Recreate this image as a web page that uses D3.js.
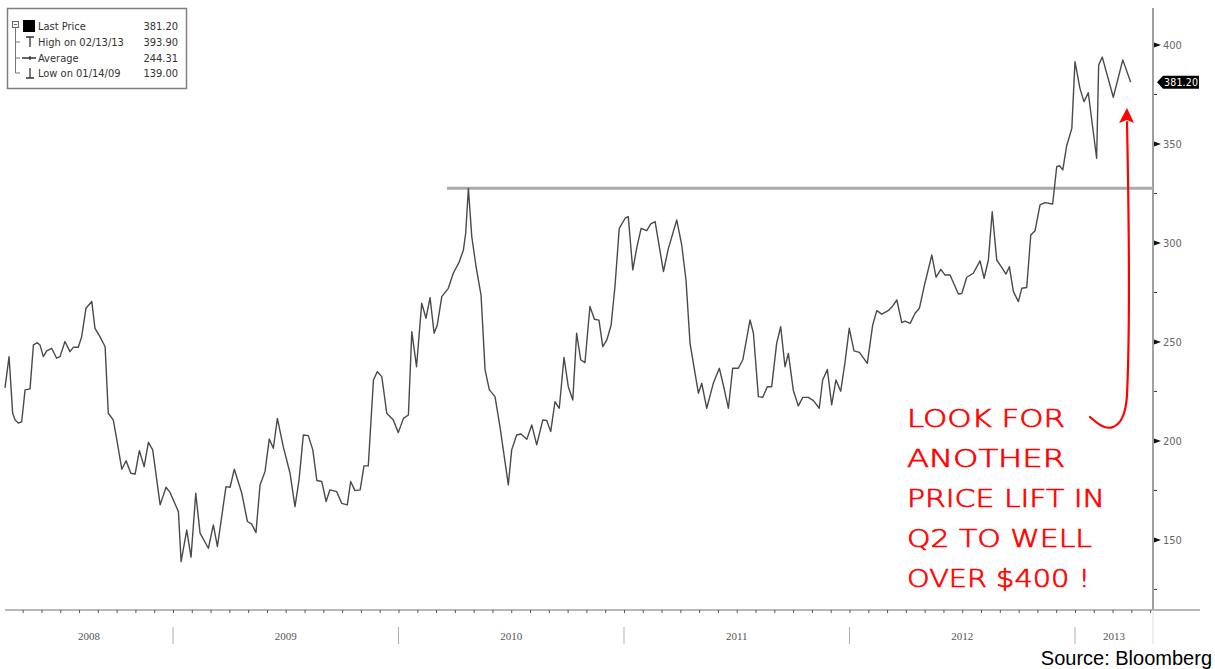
<!DOCTYPE html>
<html>
<head>
<meta charset="utf-8">
<script src="https://cdn.jsdelivr.net/npm/d3@7"></script>
<style>
  html, body { margin: 0; padding: 0; background: #fff; }
  svg { display: block; }
</style>
</head>
<body>
<svg id="chart"></svg>
<script>
const width = 1215
const height = 669

// weekly-ish closes, dates as decimal years
const dates = [
  2008.255, 2008.273, 2008.289, 2008.300, 2008.314, 2008.329, 2008.344, 2008.366, 2008.381, 2008.398,
  2008.410, 2008.425, 2008.440, 2008.462, 2008.484, 2008.499, 2008.521, 2008.543, 2008.558, 2008.580,
  2008.595, 2008.614, 2008.640, 2008.654, 2008.676, 2008.699, 2008.713, 2008.735, 2008.751, 2008.773,
  2008.792, 2008.813, 2008.832, 2008.851, 2008.872, 2008.891, 2008.910, 2008.943, 2008.969, 2008.987,
  2009.024, 2009.036, 2009.061, 2009.080, 2009.101, 2009.120, 2009.157, 2009.179, 2009.197, 2009.235,
  2009.253, 2009.272, 2009.305, 2009.330, 2009.349, 2009.368, 2009.386, 2009.408, 2009.427, 2009.445,
  2009.463, 2009.489, 2009.519, 2009.541, 2009.559, 2009.578, 2009.600, 2009.620, 2009.638, 2009.660,
  2009.679, 2009.696, 2009.726, 2009.748, 2009.773, 2009.788, 2009.807, 2009.830, 2009.847, 2009.866,
  2009.889, 2009.906, 2009.926, 2009.948, 2009.977, 2009.999, 2010.022, 2010.044, 2010.059, 2010.080,
  2010.103, 2010.122, 2010.140, 2010.158, 2010.172, 2010.192, 2010.221, 2010.243, 2010.270, 2010.288,
  2010.298, 2010.310, 2010.325, 2010.344, 2010.366, 2010.384, 2010.403, 2010.428, 2010.450, 2010.487,
  2010.502, 2010.524, 2010.543, 2010.569, 2010.591, 2010.613, 2010.640, 2010.657, 2010.675, 2010.694,
  2010.713, 2010.734, 2010.753, 2010.773, 2010.790, 2010.808, 2010.827, 2010.849, 2010.869, 2010.889,
  2010.906, 2010.924, 2010.943, 2010.960, 2010.979, 2011.005, 2011.019, 2011.039, 2011.057, 2011.076,
  2011.101, 2011.119, 2011.138, 2011.175, 2011.197, 2011.234, 2011.256, 2011.275, 2011.293, 2011.315,
  2011.330, 2011.345, 2011.367, 2011.396, 2011.423, 2011.441, 2011.463, 2011.482, 2011.507, 2011.527,
  2011.559, 2011.574, 2011.596, 2011.615, 2011.636, 2011.655, 2011.677, 2011.695, 2011.714, 2011.729,
  2011.751, 2011.773, 2011.793, 2011.818, 2011.840, 2011.866, 2011.881, 2011.902, 2011.921, 2011.940,
  2011.961, 2011.980, 2011.999, 2012.020, 2012.044, 2012.079, 2012.103, 2012.121, 2012.143, 2012.172,
  2012.192, 2012.210, 2012.232, 2012.246, 2012.269, 2012.291, 2012.310, 2012.331, 2012.365, 2012.384,
  2012.405, 2012.424, 2012.446, 2012.483, 2012.498, 2012.520, 2012.549, 2012.579, 2012.597, 2012.616,
  2012.633, 2012.653, 2012.675, 2012.694, 2012.709, 2012.727, 2012.749, 2012.764, 2012.786, 2012.804,
  2012.823, 2012.845, 2012.867, 2012.901, 2012.919, 2012.931, 2012.946, 2012.963, 2012.986, 2013.000,
  2013.022, 2013.040, 2013.059, 2013.096, 2013.105, 2013.121, 2013.170, 2013.212, 2013.247
]

const prices = [
  226.8, 242.6, 214.0, 210.6, 209.0, 209.7, 225.8, 226.3, 248.5, 249.6,
  248.5, 242.6, 245.5, 246.8, 241.8, 242.6, 250.2, 245.1, 247.3, 247.3,
  252.7, 267.0, 270.4, 256.9, 252.7, 247.6, 214.0, 210.6, 200.5, 185.7,
  190.0, 183.7, 183.3, 195.1, 187.0, 199.3, 195.5, 167.7, 176.6, 174.0,
  164.3, 139.0, 155.0, 141.3, 173.6, 153.4, 145.8, 157.6, 146.6, 176.9,
  176.6, 185.7, 173.6, 159.3, 158.0, 153.7, 177.8, 184.5, 201.0, 196.3,
  211.4, 197.1, 183.7, 166.8, 180.3, 203.0, 202.7, 195.5, 180.0, 179.5,
  169.4, 175.3, 174.4, 168.5, 167.7, 179.5, 174.9, 175.3, 187.4, 187.4,
  230.8, 235.0, 232.5, 214.0, 210.6, 204.2, 211.4, 213.1, 255.2, 237.5,
  269.6, 262.0, 272.4, 254.4, 258.6, 272.9, 277.1, 284.7, 290.6, 296.5,
  304.9, 327.6, 303.2, 288.0, 273.7, 235.9, 225.8, 222.4, 207.2, 177.8,
  195.5, 203.0, 203.5, 200.8, 208.1, 198.0, 210.6, 210.4, 204.7, 219.8,
  216.5, 242.2, 227.4, 220.7, 254.4, 241.0, 239.6, 267.9, 261.5, 261.0,
  247.6, 251.0, 258.6, 278.0, 307.4, 312.5, 313.3, 286.4, 297.8, 307.4,
  306.2, 309.6, 310.8, 285.6, 297.3, 311.6, 299.0, 281.3, 249.3, 234.2,
  224.1, 229.1, 216.5, 229.1, 236.7, 228.0, 216.5, 236.7, 236.7, 241.0,
  261.1, 254.4, 222.4, 222.0, 227.4, 227.4, 249.3, 257.7, 237.5, 244.2,
  225.5, 217.7, 222.0, 222.0, 220.4, 216.5, 230.8, 236.1, 218.2, 230.8,
  225.1, 239.6, 256.9, 245.5, 244.7, 239.2, 258.6, 265.8, 264.1, 265.8,
  268.2, 271.2, 259.8, 260.5, 259.4, 264.5, 267.0, 278.0, 293.9, 282.7,
  286.7, 283.8, 283.8, 274.2, 274.5, 282.7, 284.7, 291.0, 282.2, 291.4,
  315.8, 291.4, 287.7, 284.3, 288.0, 275.4, 270.4, 277.1, 277.5, 304.0,
  306.2, 319.2, 320.4, 319.7, 338.5, 339.0, 336.9, 349.0, 357.9, 391.6,
  378.1, 371.4, 375.9, 342.8, 389.9, 393.9, 373.6, 392.5, 381.2
]

const years = [2008, 2009, 2010, 2011, 2012, 2013]
const yMajorTicks = [150, 200, 250, 300, 350, 400]
const yMinorTicks = [125, 175, 225, 275, 325, 375]

const legendLabels = ["Last Price", "High on 02/13/13", "Average", "Low on 01/14/09"]
const legendValues = ["381.20", "393.90", "244.31", "139.00"]

const resistanceLevel = 327.6
const resistanceStart = 2010.215
const lastPrice = 381.2

const noteLines = ["LOOK FOR", "ANOTHER", "PRICE LIFT IN", "Q2 TO WELL", "OVER $400 !"]
const noteWidths = [158, 158, 198, 185, 183]

const svg = d3.select("#chart")
            .attr("width", width)
            .attr("height", height);

const x = d3.scaleLinear()
            .domain([2008.255, 2013.346])
            .range([5, 1153])

const y = d3.scaleLinear()
            .domain([114.6, 418.7])
            .range([610, 8])

const axisFont = "'DejaVu Sans Condensed', 'DejaVu Sans', sans-serif"
const axisRight = x.range()[1]
const axisBottom = y.range()[0]

// x axis: line, monthly ticks, year separators, year labels
svg.append("line")
   .attr("x1", x.range()[0]).attr("x2", 1200)
   .attr("y1", axisBottom).attr("y2", axisBottom)
   .attr("stroke", "#a0a0a0").attr("stroke-width", 1.5)

const months = d3.range(2008 * 12 + 4, 2013 * 12 + 5).map(m => m / 12)
svg.append("g")
   .attr("transform", `translate(0,${axisBottom})`)
   .call(d3.axisBottom(x).tickValues(months).tickSize(3).tickFormat(""))
   .call(g => g.select(".domain").remove())
   .call(g => g.selectAll(".tick line").attr("stroke", "#555"))

svg.selectAll(".year-sep")
   .data(years.slice(1))
   .enter()
   .append("line")
   .attr("class", "year-sep")
   .attr("x1", d => x(d)).attr("x2", d => x(d))
   .attr("y1", 627).attr("y2", 644)
   .attr("stroke", "#b0b0b0").attr("stroke-width", 1)

svg.selectAll(".year-label")
   .data(years)
   .enter()
   .append("text")
   .attr("class", "year-label")
   .attr("x", d => (x(Math.max(d, x.domain()[0])) + x(Math.min(d + 1, x.domain()[1]))) / 2)
   .attr("y", 640)
   .attr("text-anchor", "middle")
   .attr("font-family", "'Liberation Serif', serif")
   .attr("font-size", 11)
   .attr("fill", "#555")
   .text(d => d)

// right y axis
svg.append("line")
   .attr("x1", axisRight).attr("x2", axisRight)
   .attr("y1", y.range()[1]).attr("y2", axisBottom)
   .attr("stroke", "#a0a0a0").attr("stroke-width", 2)
svg.append("line")
   .attr("x1", axisRight).attr("x2", axisRight)
   .attr("y1", axisBottom).attr("y2", 644)
   .attr("stroke", "#ddd").attr("stroke-width", 1)

svg.selectAll(".ymark")
   .data(yMajorTicks)
   .enter()
   .append("path")
   .attr("class", "ymark")
   .attr("d", d => `M${axisRight + 1},${y(d) - 2.5}L${axisRight + 8},${y(d)}L${axisRight + 1},${y(d) + 2.5}Z`)
   .attr("fill", "#111")

svg.selectAll(".ylabel")
   .data(yMajorTicks)
   .enter()
   .append("text")
   .attr("class", "ylabel")
   .attr("x", axisRight + 10)
   .attr("y", d => y(d) + 4)
   .attr("font-family", axisFont)
   .attr("font-size", 11)
   .attr("fill", "#666")
   .text(d => d)

svg.selectAll(".yminor")
   .data(yMinorTicks)
   .enter()
   .append("line")
   .attr("class", "yminor")
   .attr("x1", axisRight + 1).attr("x2", axisRight + 4)
   .attr("y1", d => y(d)).attr("y2", d => y(d))
   .attr("stroke", "#333").attr("stroke-width", 1)

// resistance line
svg.append("line")
   .attr("x1", x(resistanceStart)).attr("x2", axisRight)
   .attr("y1", y(resistanceLevel)).attr("y2", y(resistanceLevel))
   .attr("stroke", "#aaa").attr("stroke-width", 3)

// price line
const series = dates.map((d, i) => [d, prices[i]])
const line = d3.line().x(d => x(d[0])).y(d => y(d[1]))
svg.append("path")
   .datum(series)
   .attr("d", line)
   .attr("fill", "none")
   .attr("stroke", "#4a4a4a")
   .attr("stroke-width", 1.4)
   .attr("stroke-linejoin", "round")

// last price tag
const ly = y(lastPrice)
svg.append("path")
   .attr("d", `M${axisRight + 4},${ly}L${axisRight + 10},${ly - 6.5}L1199,${ly - 6.5}L1199,${ly + 6.5}L${axisRight + 10},${ly + 6.5}Z`)
   .attr("fill", "#000")
svg.append("text")
   .attr("x", axisRight + 11)
   .attr("y", ly + 4)
   .attr("font-family", axisFont)
   .attr("font-size", 10.5)
   .attr("fill", "#fff")
   .attr("textLength", 34)
   .text(lastPrice.toFixed(2))

// legend
const legend = svg.append("g")
legend.append("rect")
      .attr("x", 7.5).attr("y", 8.5)
      .attr("width", 179).attr("height", 80)
      .attr("fill", "#fff")
      .attr("stroke", "#808080").attr("stroke-width", 1.5)

const rowY = [26, 42, 58, 73]
// tree lines
legend.append("rect").attr("x", 12.5).attr("y", 21.5).attr("width", 6).attr("height", 6)
      .attr("fill", "none").attr("stroke", "#666")
legend.append("line").attr("x1", 14).attr("x2", 17).attr("y1", 24.5).attr("y2", 24.5).attr("stroke", "#666")
legend.append("path")
      .attr("d", `M15.5,28V${rowY[3]}H20M15.5,${rowY[1]}H20M15.5,${rowY[2]}H20`)
      .attr("fill", "none").attr("stroke", "#777")
legend.append("rect").attr("x", 23).attr("y", 20).attr("width", 12).attr("height", 12).attr("fill", "#000")
legend.append("path")
      .attr("d", `M26,${rowY[1] - 5}H34M30,${rowY[1] - 5}V${rowY[1] + 5}`)
      .attr("stroke", "#333").attr("stroke-width", 1.3).attr("fill", "none")
legend.append("path")
      .attr("d", `M22,${rowY[2]}H36M30,${rowY[2] - 2}V${rowY[2] + 2}`)
      .attr("stroke", "#333").attr("stroke-width", 1.3).attr("fill", "none")
legend.append("path")
      .attr("d", `M30,${rowY[3] - 5}V${rowY[3] + 5}M26,${rowY[3] + 5}H34`)
      .attr("stroke", "#333").attr("stroke-width", 1.3).attr("fill", "none")

legend.selectAll(".lg-label")
      .data(legendLabels)
      .enter()
      .append("text")
      .attr("class", "lg-label")
      .attr("x", 38)
      .attr("y", (d, i) => rowY[i] + 4)
      .attr("font-family", axisFont)
      .attr("font-size", 11)
      .attr("fill", "#333")
      .text(d => d)

legend.selectAll(".lg-value")
      .data(legendValues)
      .enter()
      .append("text")
      .attr("class", "lg-value")
      .attr("x", 178)
      .attr("y", (d, i) => rowY[i] + 4)
      .attr("text-anchor", "end")
      .attr("font-family", axisFont)
      .attr("font-size", 11)
      .attr("fill", "#333")
      .text(d => d)

// red hand-drawn note and arrow
const note = svg.append("g")
note.selectAll("text")
    .data(noteLines)
    .enter()
    .append("text")
    .attr("x", 907)
    .attr("y", (d, i) => 427 + i * 40)
    .attr("font-family", "'DejaVu Sans', sans-serif")
    .attr("font-weight", 200)
    .attr("font-size", 24)
    .attr("fill", "#ff0000")
    .attr("stroke", "#ff0000")
    .attr("stroke-width", 0.7)
    .attr("textLength", (d, i) => noteWidths[i])
    .attr("lengthAdjust", "spacingAndGlyphs")
    .text(d => d)

const tipX = 1127, tipY = 108
note.append("path")
    .attr("d", `M1090,417 C1098,424 1105,430 1113,427 C1121,424 1126,412 1127,395 C1130,330 1129,220 ${tipX},${tipY + 14}`)
    .attr("fill", "none")
    .attr("stroke", "#ff0000")
    .attr("stroke-width", 2.2)
    .attr("stroke-linecap", "round")
note.append("path")
    .attr("d", `M${tipX},${tipY}L${tipX + 7},${tipY + 15}L${tipX},${tipY + 12}L${tipX - 8},${tipY + 15}Z`)
    .attr("fill", "#ff0000")

// source
svg.append("text")
   .attr("x", 1212)
   .attr("y", 665)
   .attr("text-anchor", "end")
   .attr("font-family", "'Liberation Sans', Arial, sans-serif")
   .attr("font-size", 20)
   .attr("fill", "#000")
   .text("Source: Bloomberg")
</script>
</body>
</html>
